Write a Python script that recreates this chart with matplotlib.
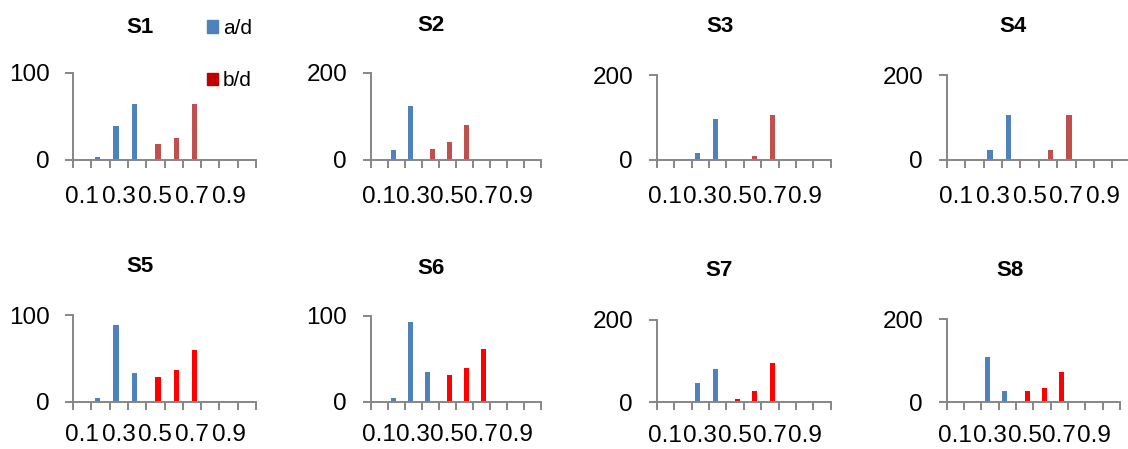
import matplotlib
matplotlib.use("Agg")
import matplotlib.pyplot as plt
from matplotlib.patches import Patch
import numpy as np

plt.rcParams['font.family'] = ['Liberation Sans', 'DejaVu Sans']

W, H = 1128, 449

categories = ['0.1', '0.2', '0.3', '0.4', '0.5', '0.6', '0.7', '0.8', '0.9', '1.0']
panel_names = ['S1', 'S2', 'S3', 'S4', 'S5', 'S6', 'S7', 'S8']

# a/d and b/d counts for each bin
s1_a = [0, 3, 39, 64, 0, 0, 0, 0, 0, 0]
s1_b = [0, 0, 0, 0, 18, 25, 64, 0, 0, 0]
s2_a = [0, 24, 124, 0, 0, 0, 0, 0, 0, 0]
s2_b = [0, 0, 0, 25, 41, 80, 0, 0, 0, 0]
s3_a = [0, 0, 17, 96, 0, 0, 0, 0, 0, 0]
s3_b = [0, 0, 0, 0, 0, 9, 105, 0, 0, 0]
s4_a = [0, 0, 23, 106, 0, 0, 0, 0, 0, 0]
s4_b = [0, 0, 0, 0, 0, 24, 105, 0, 0, 0]
s5_a = [0, 4, 89, 33, 0, 0, 0, 0, 0, 0]
s5_b = [0, 0, 0, 0, 29, 36, 60, 0, 0, 0]
s6_a = [0, 4, 93, 34, 0, 0, 0, 0, 0, 0]
s6_b = [0, 0, 0, 0, 31, 39, 61, 0, 0, 0]
s7_a = [0, 1, 47, 82, 0, 0, 0, 0, 0, 0]
s7_b = [0, 0, 0, 0, 8, 27, 96, 0, 0, 0]
s8_a = [0, 0, 109, 26, 0, 0, 0, 0, 0, 0]
s8_b = [0, 0, 0, 0, 28, 34, 72, 0, 0, 0]

series_a = [s1_a, s2_a, s3_a, s4_a, s5_a, s6_a, s7_a, s8_a]
series_b = [s1_b, s2_b, s3_b, s4_b, s5_b, s6_b, s7_b, s8_b]
y_max = [100, 200, 200, 200, 100, 100, 200, 200]

blue = '#4F81BD'
red_b = ['#C0504D'] * 4 + ['#FF0000'] * 4
legend_red = '#C00000'
axis_gray = '#868686'

# plot areas in pixels: left, right, y of zero line, y of top tick
frames = [
    (73.0, 256.0, 160.0, 72.7),
    (370.7, 541.0, 160.0, 72.7),
    (656.7, 830.7, 160.0, 75.0),
    (946.7, 1130.7, 160.0, 75.0),
    (73.0, 256.0, 401.7, 315.0),
    (370.7, 541.0, 401.7, 315.7),
    (656.7, 830.7, 402.3, 320.0),
    (946.7, 1120.0, 402.3, 319.0),
]
title_pos = [(139.5, 27.5), (431, 25.5), (719.5, 27), (1013, 27),
             (140, 267), (431, 269), (719.5, 271), (1010, 271)]
label_pad = [19] * 4 + [16] * 4

fig = plt.figure(figsize=(W / 100, H / 100), dpi=100)

x = np.arange(len(categories))
bw = 0.29
label_idx = [0, 2, 4, 6, 8]
tick_fs = 17.5

for i in range(8):
    l, r, y0, yt = frames[i]
    ax = fig.add_axes([l / W, (H - y0) / H, (r - l) / W, (y0 - yt) / H])
    ax.bar(x - bw / 2, series_a[i], width=bw, color=blue, label='a/d')
    ax.bar(x + bw / 2, series_b[i], width=bw, color=red_b[i], label='b/d')
    ax.set_xlim(-0.5, len(categories) - 0.5)
    ax.set_ylim(0, y_max[i])
    ax.set_yticks([0, y_max[i]])
    ax.set_yticklabels([str(0), str(y_max[i])])
    ax.set_xticks(np.arange(-0.5, len(categories), 1.0))
    ax.set_xticklabels([])
    ax.set_xticks(x[label_idx], minor=True)
    ax.set_xticklabels([categories[j] for j in label_idx], minor=True)
    for s in ['top', 'right']:
        ax.spines[s].set_visible(False)
    for s in ['left', 'bottom']:
        ax.spines[s].set_color(axis_gray)
        ax.spines[s].set_linewidth(1.4)
    ax.tick_params(axis='x', which='major', direction='out', length=5.8,
                   width=1.4, color=axis_gray)
    ax.tick_params(axis='x', which='minor', length=0, pad=label_pad[i],
                   labelsize=tick_fs)
    ax.tick_params(axis='y', direction='out', length=5.5, width=1.4,
                   color=axis_gray, pad=11.5, labelsize=tick_fs)
    ax.patch.set_visible(False)
    tx, ty = title_pos[i]
    fig.text(tx / W, 1 - ty / H, panel_names[i], ha='center', va='center',
             fontsize=16, fontweight='bold')
    if i == 0:
        handles = [Patch(color=blue, label='a/d'),
                   Patch(color=legend_red, label='b/d')]
        fig.legend(handles=handles, loc='upper left',
                   bbox_to_anchor=(207 / W, 1 - 19 / H), frameon=False,
                   fontsize=15, handlelength=0.55, handleheight=0.55,
                   handletextpad=0.2, labelspacing=1.6, borderpad=0,
                   borderaxespad=0)

fig.savefig('out.png', dpi=100)
